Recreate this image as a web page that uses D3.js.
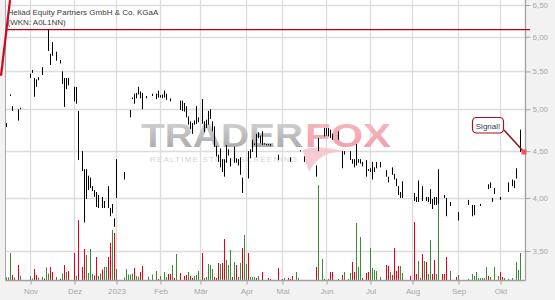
<!DOCTYPE html>
<html>
<head>
<meta charset="utf-8">
<script src="https://cdn.jsdelivr.net/npm/d3@7"></script>
<style>
  body { margin: 0; background: #f2f2f2; }
  svg { display: block; font-family: "Liberation Sans", Arial, sans-serif; }
  .axis text { fill: #a4a6ae; font-size: 8px; }
  .axis line { stroke: #a0a0a0; }
</style>
</head>
<body>
<script>
// trading day index (0 = first slot on the left), high and low of each traded day
var priceDays = [
  0,2,3,6,7,12,13,14,15,16,
  18,21,22,23,25,27,28,29,30,31,
  34,35,36,38,39,40,41,42,43,44,
  45,46,48,49,51,52,53,54,55,59,
  62,63,64,65,66,67,68,70,73,75,
  76,77,78,79,80,82,87,88,89,90,
  91,92,93,94,95,96,98,99,100,101,
  102,103,104,105,106,107,108,109,110,111,
  112,114,115,116,117,118,121,122,123,124,
  125,126,127,128,129,130,131,132,136,142,
  147,149,155,156,159,160,161,162,163,166,
  168,169,172,173,174,175,176,177,178,180,
  181,182,183,184,185,187,190,191,193,194,
  195,196,197,198,204,205,206,208,210,211,
  212,213,214,215,216,219,220,222,226,231,
  233,234,237,241,242,243,244,247,251,253,
  254,255,257
];
var priceHighs = [
  4.83,5.19,5.04,5.00,5.02,5.47,5.52,5.41,5.39,5.42,
  5.56,6.11,5.75,5.92,5.78,5.66,5.50,5.41,5.41,5.41,
  5.29,5.29,4.98,4.50,4.30,4.30,4.23,4.21,4.12,4.08,
  4.06,4.03,4.01,3.97,4.12,3.90,3.94,3.80,4.41,4.27,
  4.99,5.15,5.20,5.21,5.29,5.23,5.21,5.17,5.20,5.20,
  5.24,5.18,5.19,5.24,5.20,5.14,5.11,5.11,5.08,5.04,
  4.91,4.85,4.83,4.86,5.04,4.90,5.13,4.85,4.87,4.98,
  5.00,4.85,4.79,4.56,4.46,4.53,4.41,4.41,4.57,4.52,
  4.42,4.55,4.42,4.41,4.43,4.21,4.50,4.52,4.63,4.59,
  4.70,4.72,4.68,4.73,4.59,4.58,4.58,4.58,4.46,4.43,
  4.51,4.44,4.34,4.65,4.77,4.77,4.77,4.75,4.70,4.73,
  4.50,4.50,4.50,4.41,4.41,4.58,4.41,4.41,4.38,4.40,
  4.30,4.31,4.38,4.32,4.38,4.38,4.29,4.22,4.32,4.25,
  4.20,4.12,4.06,4.17,4.05,4.01,4.18,4.12,4.01,4.01,
  4.09,3.99,4.01,4.01,4.30,4.03,4.00,3.96,3.86,3.98,
  3.93,3.93,3.94,4.14,4.16,4.00,4.10,4.01,4.16,4.19,
  4.18,4.31,4.75
];
var priceLows = [
  4.78,5.17,4.98,4.86,5.00,5.41,5.48,5.16,5.29,5.38,
  5.45,5.79,5.59,5.72,5.65,5.61,5.33,5.03,5.26,5.31,
  5.10,5.07,4.40,4.28,3.76,3.99,4.08,4.10,4.07,4.01,
  3.91,3.90,3.90,3.90,3.90,3.82,3.85,3.72,4.00,4.19,
  4.90,5.13,5.07,5.14,5.19,5.14,5.00,5.14,5.17,5.13,
  5.15,5.15,5.14,5.15,5.12,5.10,4.99,4.98,4.97,4.90,
  4.81,4.76,4.70,4.81,4.82,4.84,4.82,4.72,4.77,4.81,
  4.88,4.73,4.55,4.44,4.38,4.32,4.27,4.22,4.37,4.45,
  4.33,4.37,4.37,4.34,4.24,4.05,4.20,4.42,4.49,4.57,
  4.43,4.65,4.59,4.57,4.58,4.57,4.57,4.56,4.40,4.38,
  4.50,4.38,4.22,4.50,4.67,4.68,4.67,4.65,4.63,4.63,
  4.31,4.46,4.40,4.36,4.32,4.34,4.37,4.36,4.33,4.22,
  4.28,4.27,4.19,4.27,4.31,4.32,4.22,4.16,4.24,4.19,
  4.12,4.03,4.00,4.00,3.97,3.96,3.96,3.97,3.97,3.96,
  3.94,3.89,3.93,3.93,3.94,4.00,3.82,3.92,3.78,3.93,
  3.82,3.83,3.92,4.09,4.10,3.96,4.04,3.98,4.06,4.12,
  4.10,4.20,4.49
];

// volume per traded day, 1 = up day (green), 0 = down day (red)
var volumeDays = [
  0,1,2,3,4,6,7,12,13,14,
  15,16,18,19,20,21,22,23,25,27,
  28,29,30,31,34,35,36,38,39,40,
  41,42,43,44,45,46,47,48,49,50,
  51,52,53,54,55,59,60,61,62,63,
  64,65,66,67,68,71,73,75,76,77,
  79,80,81,82,83,84,85,87,89,90,
  91,92,93,94,95,96,98,99,100,101,
  102,103,104,105,106,107,108,109,110,111,
  112,113,114,115,116,117,118,119,120,121,
  122,123,124,125,126,128,131,132,136,138,
  139,141,142,143,145,146,155,156,158,159,
  161,162,163,166,168,169,171,172,173,174,
  175,176,177,178,180,181,182,183,184,185,
  187,190,191,192,193,194,195,196,197,198,
  202,204,205,206,207,208,209,210,211,212,
  213,214,215,216,218,219,220,222,225,226,
  231,233,234,235,236,237,238,239,240,241,
  242,244,246,247,248,249,251,253,255,256,
  257
];
var volumes = [
  800,800,8100,1500,750,4500,1200,1200,450,3300,
  1500,750,900,450,3750,1950,3900,2400,900,400,
  1950,4500,2400,2700,8100,1200,18000,3900,9300,7500,
  2100,9300,1800,1350,6900,1200,1950,3150,3900,3900,
  6900,11100,15000,14100,3300,750,3300,1650,1650,1950,
  3600,1200,1050,2400,4200,1000,1600,2700,300,1200,
  2400,900,1800,1800,4500,600,7800,2100,1200,1500,
  2400,1200,600,1200,1500,2700,8100,600,900,4800,
  4500,3300,900,600,5100,4800,5100,12300,6000,4500,
  9000,900,5400,4500,900,5100,9600,13500,4800,8100,
  900,900,900,600,1200,2400,600,300,3600,300,
  600,600,300,1200,2400,600,3900,28500,6300,300,
  300,2400,2400,300,1500,2400,300,2100,5400,2400,
  17100,3900,12900,600,2100,2400,9600,3600,3000,2700,
  900,4500,4200,2400,1500,9600,2700,4200,4200,2100,
  1200,17400,1800,5700,600,7800,5700,5400,1800,12000,
  1800,6000,1800,23100,1800,1800,6900,2700,900,1500,
  300,1800,1200,2400,600,600,600,600,3900,1200,
  900,3900,1200,2400,900,600,300,600,5400,3000,
  8100
];
var volumeUp = [
  1,1,1,0,1,0,1,1,1,0,
  0,1,1,0,1,1,0,0,1,0,
  1,0,1,0,0,1,0,0,0,1,
  1,1,1,0,0,1,1,0,1,1,
  0,0,1,0,1,1,1,1,1,1,
  0,1,1,0,0,1,1,1,0,1,
  1,1,0,0,1,0,1,0,0,0,
  1,0,0,1,1,1,0,1,1,1,
  1,1,0,0,0,1,0,0,1,1,
  1,0,1,0,1,1,0,1,1,0,
  1,1,1,0,1,0,0,0,0,0,
  1,0,0,0,1,1,0,1,1,0,
  1,0,0,1,0,1,1,1,0,0,
  1,1,1,0,0,0,1,1,1,1,
  1,0,0,1,0,0,0,0,1,1,
  0,0,0,1,1,0,1,0,1,1,
  0,0,1,1,0,0,0,1,0,1,
  1,1,1,1,1,1,1,1,1,0,
  1,1,1,0,0,1,1,1,1,1,
  1
];

// axis ticks: first trading day of each month, price levels
var monthLabels = ["Nov","Dez","2023","Feb","Mär","Apr","Mai","Jun","Jul","Aug","Sep","Okt"];
var monthStart = [12,34,55,77,97,120,138,160,182,203,226,247];
var priceTicks = [3.5,4,4.5,5,5.5,6,6.5];

// drawn lines and the signal
var resistancePrice = 6.11;
var resistanceDays = [0, 261.75];
var trendDays = [-2.75, 1.75];
var trendPrices = [5.44, 6.58];
var signalDay = 258.75, signalPrice = 4.49;

window.onload = function(){
    var w = 555, h = 300;
    var left = 5.5, right = 525.5, bottom = 280.5;

    var svg = d3.select("body").append("svg")
        .attr("width", w)
        .attr("height", h);

    //scales: 2px per trading day, log price axis, volume from the bottom
    var x = d3.scaleLinear().domain([-0.25, 259.75]).range([6, 526]);
    var y = d3.scaleLog().domain([3.5, 6.5]).range([251, 5]);
    var vol = d3.scaleLinear().domain([0, 30000]).range([280, 180]);

    var defs = svg.append("defs");
    var grad = defs.append("linearGradient").attr("id", "wmGray")
        .attr("x1", 0).attr("y1", 0).attr("x2", 0).attr("y2", 1);
    grad.append("stop").attr("offset", "0%").attr("stop-color", "#d8d8d8");
    grad.append("stop").attr("offset", "100%").attr("stop-color", "#a4a4a4");
    var gradPink = defs.append("linearGradient").attr("id", "wmPink")
        .attr("x1", 0).attr("y1", 0).attr("x2", 0).attr("y2", 1);
    gradPink.append("stop").attr("offset", "0%").attr("stop-color", "#f6bcc4");
    gradPink.append("stop").attr("offset", "100%").attr("stop-color", "#ef9ca8");

    //white plot area
    svg.append("rect")
        .attr("x", left).attr("y", 0)
        .attr("width", right - left).attr("height", bottom)
        .style("fill", "#ffffff");

    //grid
    svg.selectAll(".hgrid")
        .data(priceTicks)
        .enter()
        .append("line")
        .attr("class", "hgrid")
        .attr("x1", left).attr("x2", right)
        .attr("y1", function(d){ return Math.round(y(d)) + 0.5; })
        .attr("y2", function(d){ return Math.round(y(d)) + 0.5; })
        .style("stroke", "#dcdcdc")
        .style("stroke-width", 1.3);

    svg.selectAll(".vgrid")
        .data(monthStart)
        .enter()
        .append("line")
        .attr("class", "vgrid")
        .attr("x1", function(d){ return x(d); })
        .attr("x2", function(d){ return x(d); })
        .attr("y1", 0).attr("y2", bottom)
        .style("stroke", "#dcdcdc")
        .style("stroke-width", 1.3);

    //watermark
    var wm = svg.append("g").attr("class", "watermark");
    wm.append("text")
        .attr("x", 141).attr("y", 146.5)
        .attr("textLength", 162).attr("lengthAdjust", "spacingAndGlyphs")
        .style("font-size", "33px").style("font-weight", "bold")
        .style("fill", "url(#wmGray)")
        .text("TRADER");
    wm.append("path")
        .attr("d", "M303,150 C312,146 330,147 346,152 C332,151 318,155 309,172 C306,164 304,157 303,150 Z")
        .style("fill", "#f5c2c9")
        .style("opacity", 0.85);
    wm.append("text")
        .attr("x", 305).attr("y", 146.5)
        .attr("textLength", 86).attr("lengthAdjust", "spacingAndGlyphs")
        .style("font-size", "33px").style("font-weight", "bold")
        .style("fill", "url(#wmPink)")
        .text("FOX");
    wm.append("text")
        .attr("x", 150).attr("y", 161.5)
        .attr("textLength", 147).attr("lengthAdjust", "spacing")
        .style("font-size", "8px")
        .style("fill", "#d4d4d4")
        .text("REALTIME STOCK-SCREENING");

    //volume bars
    svg.selectAll(".vol")
        .data(volumeDays)
        .enter()
        .append("rect")
        .attr("class", "vol")
        .attr("x", function(d){ return x(d) - 0.5; })
        .attr("width", 1)
        .attr("y", function(d, i){ return vol(volumes[i]); })
        .attr("height", function(d, i){ return 280 - vol(volumes[i]); })
        .style("fill", function(d, i){ return volumeUp[i] ? "#3c8a38" : "#e2001a"; });

    //price bars (high-low)
    svg.selectAll(".bar")
        .data(priceDays)
        .enter()
        .append("rect")
        .attr("class", "bar")
        .attr("x", function(d){ return x(d) - 0.5; })
        .attr("width", 1)
        .attr("y", function(d, i){ return y(priceHighs[i]); })
        .attr("height", function(d, i){
            return Math.max(1.2, y(priceLows[i]) - y(priceHighs[i]));
        })
        .style("fill", "#000");

    //axes
    var yAxis = d3.axisRight(y)
        .tickValues(priceTicks)
        .tickSize(5)
        .tickPadding(2)
        .tickFormat(function(d){ return d3.format(".2f")(d).replace(".", ","); });
    var ya = svg.append("g")
        .attr("class", "axis")
        .attr("transform", "translate(" + right + ",0)")
        .call(yAxis);
    ya.select(".domain").remove();

    var xAxis = d3.axisBottom(x)
        .tickValues(monthStart)
        .tickSize(4)
        .tickPadding(3.5)
        .tickFormat(function(d, i){ return monthLabels[i]; });
    var xa = svg.append("g")
        .attr("class", "axis")
        .attr("transform", "translate(0," + bottom + ")")
        .call(xAxis);
    xa.select(".domain").remove();

    //frame lines
    svg.append("line").attr("x1", left).attr("x2", left).attr("y1", 0).attr("y2", bottom)
        .style("stroke", "#a8a8a8");
    svg.append("line").attr("x1", right).attr("x2", right).attr("y1", 0).attr("y2", bottom)
        .style("stroke", "#a0a0a0").style("stroke-width", 1.3);
    svg.append("line").attr("x1", left).attr("x2", right).attr("y1", bottom).attr("y2", bottom)
        .style("stroke", "#a0a0a0").style("stroke-width", 1.3);

    //resistance and trend line
    svg.append("line")
        .attr("x1", x(resistanceDays[0])).attr("x2", x(resistanceDays[1]))
        .attr("y1", y(resistancePrice)).attr("y2", y(resistancePrice))
        .style("stroke", "#c0000e")
        .style("stroke-width", 1.3);
    svg.append("line")
        .attr("x1", x(trendDays[0])).attr("y1", y(trendPrices[0]))
        .attr("x2", x(trendDays[1])).attr("y2", y(trendPrices[1]))
        .style("stroke", "#d8001c")
        .style("stroke-width", 2.2);

    //title
    var title = svg.append("text")
        .attr("x", 7.5).attr("y", 15)
        .style("font-size", "8px")
        .style("fill", "#3a3a3a");
    title.append("tspan").attr("x", 7.5).text("Heliad Equity Partners GmbH & Co. KGaA");
    title.append("tspan").attr("x", 7.5).attr("dy", 9.5).text("(WKN: A0L1NN)");

    //signal marker with label
    var sx = x(signalDay), sy = y(signalPrice);
    svg.append("line")
        .attr("x1", sx - 20).attr("y1", sy - 22)
        .attr("x2", sx).attr("y2", sy)
        .style("stroke", "#9c0a14")
        .style("stroke-width", 1.5);
    svg.append("rect")
        .attr("x", sx - 2.5).attr("y", sy - 2.5)
        .attr("width", 5).attr("height", 5)
        .style("fill", "#f0505e");
    svg.append("rect")
        .attr("x", sx - 51.5).attr("y", sy - 34.5)
        .attr("width", 31).attr("height", 15.5)
        .attr("rx", 4)
        .style("fill", "#fff")
        .style("stroke", "#a8101c")
        .style("stroke-width", 1.2);
    svg.append("text")
        .attr("x", sx - 36).attr("y", sy - 23.5)
        .attr("text-anchor", "middle")
        .style("font-size", "8px")
        .style("fill", "#333a4a")
        .text("Signal!");
};
</script>
</body>
</html>
